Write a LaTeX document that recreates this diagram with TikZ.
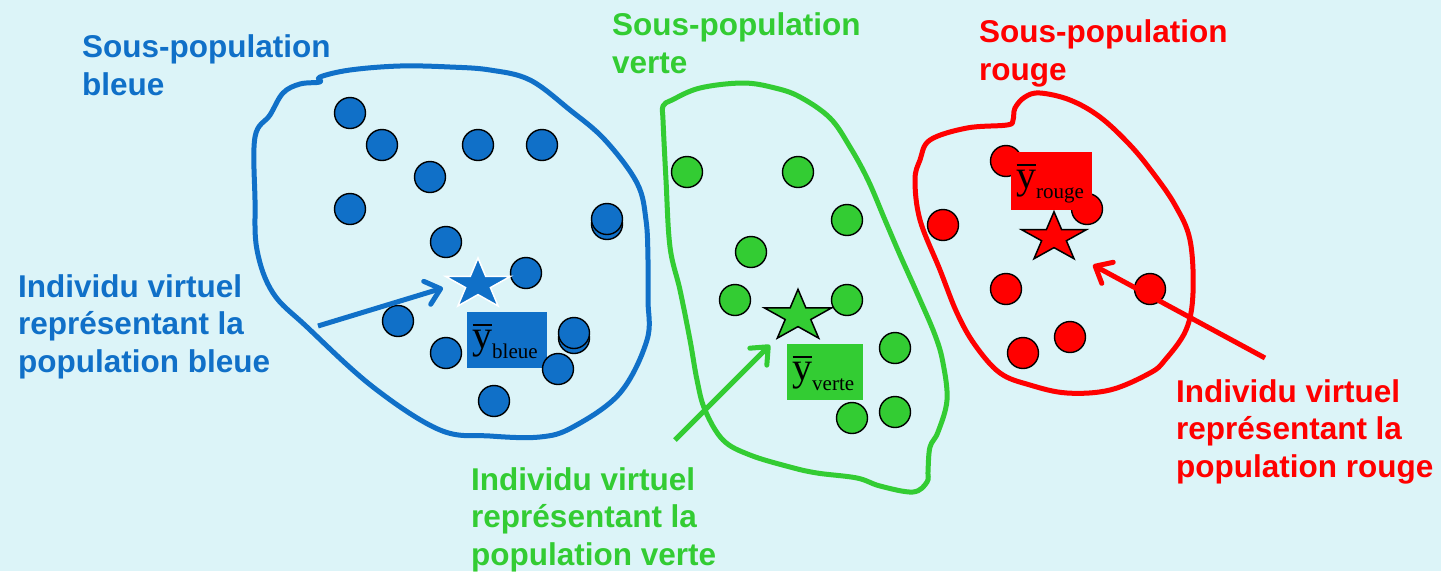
\documentclass[tikz,border=0pt]{standalone}
\usepackage{fontspec}
\setmainfont{Liberation Sans}
\newfontfamily\tms{Liberation Serif}
\usetikzlibrary{arrows.meta}
\definecolor{bg}{RGB}{220,244,248}
\definecolor{cblue}{RGB}{16,112,200}
\definecolor{cgreen}{RGB}{51,204,51}
\definecolor{cred}{RGB}{255,0,0}
\tikzset{
  dot/.style={circle, draw=black, line width=1.4pt, minimum size=31pt, inner sep=0pt},
  blob/.style={line width=5pt, line join=round},
  arr/.style={line width=5pt, -{Straight Barb[length=14pt,width=24pt,round]}},
  title/.style={anchor=base west, align=left, font=\bfseries\fontsize{31.5}{37.5}\selectfont, inner sep=0pt},
  ybox/.style={anchor=north west, inner xsep=5pt, inner ysep=0pt, text height=36pt, text depth=20pt, font=\tms\fontsize{40}{40}\selectfont, text=black},
  starst/.style={line width=1.5pt, line join=miter},
}
\newcommand\ybar[2]{\makebox[#1][l]{\rlap{\hspace{0.5pt}\rule[22.5pt]{19pt}{1.5pt}}y\raisebox{-10pt}{\fontsize{21}{21}\selectfont #2}}}
\newcommand\starpath{(-90:1) -- (-54:0.382) -- (-18:1) -- (18:0.382) -- (54:1) -- (90:0.382) -- (126:1) -- (162:0.382) -- (198:1) -- (234:0.382) -- cycle}
\begin{document}
\begin{tikzpicture}[x=1pt,y=-1pt]
\fill[bg] (0,0) rectangle (1441,571);
\useasboundingbox (0,0) rectangle (1441,571);
% blobs
\draw[blob, cblue] plot[smooth cycle, tension=0.6] coordinates {(320,77) (350,70) (400,66) (450,67) (490,70) (530,80) (570,110) (605,140) (637,183) (646,220) (648,260) (648,300) (647,340) (620,393) (573,427) (540,437) (490,436) (440,430) (373,387) (307,327) (273,293) (257,250) (255,200) (255,137) (270,115) (283,93) (300,84) (320,82)};
\draw[blob, cgreen] plot[smooth cycle, tension=0.6] coordinates {(663,106) (672,100) (700,88) (743,83) (775,88) (800,97) (830,118) (850,147) (868,180) (885,220) (900,255) (917,293) (935,335) (943,363) (947,400) (938,432) (930,447) (928,470) (927,482) (913,492) (880,486) (857,478) (817,473) (790,467) (750,455) (723,440) (705,410) (697,380) (690,340) (680,290) (670,247) (666,180) (663,120)};
\draw[blob, cred] plot[smooth cycle, tension=0.6] coordinates {(1013,120) (1015,108) (1025,97) (1040,93) (1070,100) (1100,117) (1130,145) (1153,173) (1175,205) (1190,240) (1193,293) (1186,330) (1165,360) (1150,373) (1110,390) (1067,393) (1030,385) (1000,373) (975,345) (957,313) (940,270) (920,220) (915,180) (920,160) (930,140) (967,128) (1007,125)};
% blue box
\node[ybox, fill=cblue] (yb) at (467,312) {\ybar{70pt}{bleue}};
% blue dots
\node[dot, fill=cblue] (b1) at (350,113) {};
\node[dot, fill=cblue] (b2) at (382,145) {};
\node[dot, fill=cblue] (b3) at (478,145) {};
\node[dot, fill=cblue] (b4) at (542,145) {};
\node[dot, fill=cblue] (b5) at (430,177) {};
\node[dot, fill=cblue] (b6) at (350,209) {};
\node[dot, fill=cblue] (b7a) at (607,224) {};
\node[dot, fill=cblue] (b7) at (607,219) {};
\node[dot, fill=cblue] (b8) at (446,242) {};
\node[dot, fill=cblue] (b9) at (526,273) {};
\node[dot, fill=cblue] (b10) at (398,321) {};
\node[dot, fill=cblue] (b11) at (446,353) {};
\node[dot, fill=cblue] (b12a) at (574,338) {};
\node[dot, fill=cblue] (b12) at (574,333) {};
\node[dot, fill=cblue] (b13) at (558,369) {};
\node[dot, fill=cblue] (b14) at (494,401) {};
% green dots
\node[dot, fill=cgreen] (g1) at (687,172) {};
\node[dot, fill=cgreen] (g2) at (798,172) {};
\node[dot, fill=cgreen] (g3) at (847,220) {};
\node[dot, fill=cgreen] (g4) at (751,252) {};
\node[dot, fill=cgreen] (g5) at (735,300) {};
\node[dot, fill=cgreen] (g6) at (847,300) {};
\node[dot, fill=cgreen] (g7) at (895,348) {};
\node[dot, fill=cgreen] (g8) at (852,418) {};
\node[dot, fill=cgreen] (g9) at (895,412) {};
% red dots
\node[dot, fill=cred] (r1) at (1006,161) {};
\node[dot, fill=cred] (r2) at (1087,209) {};
\node[dot, fill=cred] (r3) at (943,225) {};
\node[dot, fill=cred] (r4) at (1006,289) {};
\node[dot, fill=cred] (r5) at (1150,289) {};
\node[dot, fill=cred] (r6) at (1070,337) {};
\node[dot, fill=cred] (r7) at (1023,353) {};
% green and red boxes
\node[ybox, fill=cgreen] (yg) at (787,344) {\ybar{66pt}{verte}};
\node[ybox, fill=cred, text depth=22pt] (yr) at (1011,152) {\ybar{71pt}{rouge}};
% stars
\draw[starst, fill=cblue, draw=white, shift={(478,284.5)}, xscale=34.2, yscale=26.5] \starpath;
\draw[starst, fill=cgreen, draw=black, shift={(798,316.3)}, xscale=35.2, yscale=27] \starpath;
\draw[starst, fill=cred, draw=black, shift={(1054,237.7)}, xscale=34.1, yscale=26] \starpath;
% arrows
\coordinate (ba0) at (318,326);
\coordinate (ba1) at (443,288);
\coordinate (ga0) at (675,440);
\coordinate (ga1) at (770,345);
\coordinate (ra0) at (1265,358);
\coordinate (ra1) at (1093,265);
\draw[arr, cblue] (ba0) -- (ba1);
\draw[arr, cgreen] (ga0) -- (ga1);
\draw[arr, cred] (ra0) -- (ra1);
% texts (base anchor = baseline of the last line)
\node[title, text=cblue] (tb) at (82,95) {Sous-population\\bleue};
\node[title, text=cgreen] (tg) at (612,73) {Sous-population\\verte};
\node[title, text=cred] (tr) at (979,80) {Sous-population\\rouge};
\node[title, text=cblue] (ib) at (18,372) {Individu virtuel\\représentant la\\population bleue};
\node[title, text=cgreen] (ig) at (471,565) {Individu virtuel\\représentant la\\population verte};
\node[title, text=cred] (ir) at (1176,477) {Individu virtuel\\représentant la\\population rouge};
\end{tikzpicture}
\end{document}
